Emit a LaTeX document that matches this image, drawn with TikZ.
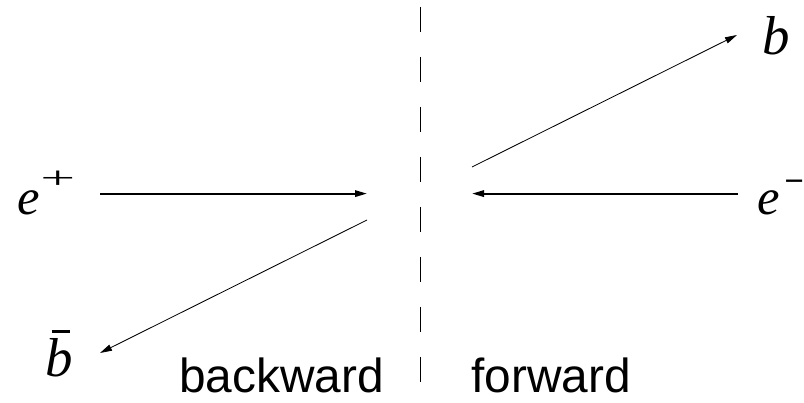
\documentclass[tikz,border=0pt]{standalone}
\usepackage{fontspec}
\setmainfont{Liberation Serif}
\setsansfont{Liberation Sans}
\usetikzlibrary{arrows.meta}

\newcommand{\supsign}[1]{\raisebox{19pt}{\upshape\fontsize{22}{22}\selectfont\scalebox{2}[1]{#1}}}
\newcommand{\barb}{\makebox[0pt][l]{\hspace{4.5pt}\rule[30.5pt]{12.8pt}{2.2pt}}b}

\begin{document}
\begin{tikzpicture}[>={Triangle[length=3mm,width=1.6mm]},
  part/.style={font=\itshape\fontsize{36}{40}\selectfont, inner sep=0pt, anchor=base west},
  quarkfont/.style={font=\itshape\fontsize{39}{42}\selectfont},
  side/.style={font=\sffamily\fontsize{34}{40}\selectfont, inner sep=0pt, text depth=0pt, anchor=base west},
  beam/.style={->, line width=1.4pt},
  jet/.style={->, line width=0.6pt},
  cut/.style={line width=0.9pt, dash pattern=on 0.625cm off 0.625cm}]
  \useasboundingbox (0,0) rectangle (20.1,10.05);
  % incoming beams
  \coordinate (pstart) at (2.5,5.21);
  \coordinate (pend) at (9.175,5.21);
  \coordinate (mstart) at (18.45,5.21);
  \coordinate (mend) at (11.8,5.21);
  % outgoing quarks
  \coordinate (qstart) at (11.8,5.875);
  \coordinate (qend) at (18.425,9.175);
  \coordinate (qbstart) at (9.175,4.55);
  \coordinate (qbend) at (2.5,1.225);
  % dividing line
  \coordinate (cuttop) at (10.52,9.875);
  \coordinate (cutbot) at (10.52,0.5);
  \node[part] (posi) at (0.425,4.675) {e\kern0.5pt\supsign{+}};
  \node[part] (elec) at (18.925,4.675) {e\kern3pt\supsign{-}};
  \node[part, quarkfont] (quark) at (19.05,8.675) {b};
  \node[part, quarkfont] (aquark) at (1.125,0.65) {\barb};
  \node[side] (back) at (4.475,0.24) {backward};
  \node[side] (fwd) at (11.775,0.24) {forward};
  \draw[beam] (pstart) -- (pend);
  \draw[beam] (mstart) -- (mend);
  \draw[jet] (qstart) -- (qend);
  \draw[jet] (qbstart) -- (qbend);
  \draw[cut] (cuttop) -- (cutbot);
\end{tikzpicture}
\end{document}
